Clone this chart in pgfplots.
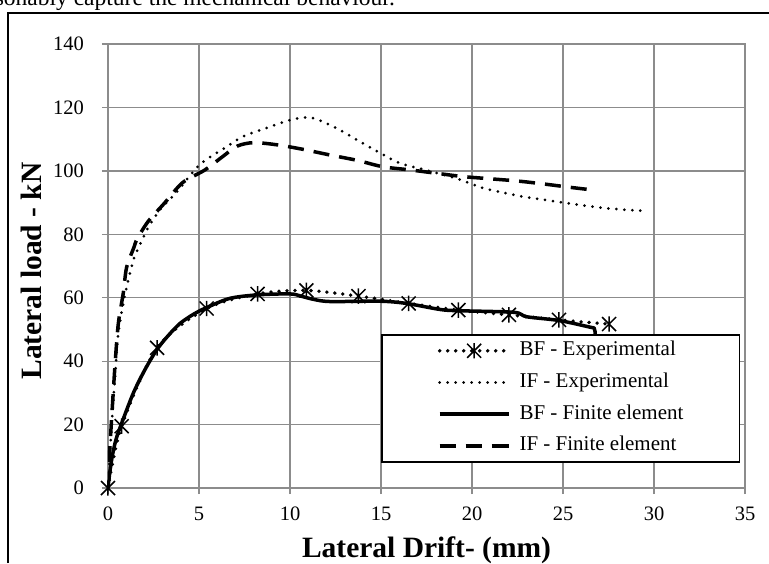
\documentclass[border=0pt]{standalone}
\usepackage{fontspec}
\setmainfont{Liberation Serif}
\usepackage{pgfplots}
\pgfplotsset{compat=1.18}
\definecolor{gridgray}{RGB}{140,140,140}
\pgfdeclareplotmark{xstar}{%
  \pgfpathmoveto{\pgfqpoint{-\pgfplotmarksize}{-\pgfplotmarksize}}%
  \pgfpathlineto{\pgfqpoint{\pgfplotmarksize}{\pgfplotmarksize}}%
  \pgfpathmoveto{\pgfqpoint{-\pgfplotmarksize}{\pgfplotmarksize}}%
  \pgfpathlineto{\pgfqpoint{\pgfplotmarksize}{-\pgfplotmarksize}}%
  \pgfpathmoveto{\pgfqpoint{0pt}{-1.1\pgfplotmarksize}}%
  \pgfpathlineto{\pgfqpoint{0pt}{1.1\pgfplotmarksize}}%
  \pgfusepathqstroke}
\begin{document}
\begin{tikzpicture}
\begin{axis}[
  at={(108pt,-488pt)}, anchor=south west,
  scale only axis, width=637pt, height=444pt,
  xmin=0, xmax=35, ymin=0, ymax=140,
  xtick={0,5,...,35}, ytick={0,20,...,140},
  grid=major,
  major grid style={draw=gridgray, line width=1.3pt},
  axis line style={draw=gridgray, line width=1.3pt},
  tick style={draw=gridgray, line width=1.3pt},
  tick align=outside, major tick length=6pt,
  xtick pos=left, ytick pos=left,
  /pgf/number format/assume math mode=true,
  tick label style={font=\fontsize{20.5}{24}\selectfont, text=black},
  yticklabel style={inner sep=0pt, xshift=-18pt},
  xticklabel style={inner sep=0pt, yshift=-13pt},
  xlabel={Lateral Drift- (mm)},
  ylabel={Lateral load - kN},
  label style={font=\bfseries\fontsize{29.5}{33}\selectfont},
  xlabel style={at={(axis description cs:0.5,0)}, anchor=base, yshift=-69pt, inner sep=0pt},
  ylabel style={at={(axis description cs:0,0.5)}, anchor=base, yshift=66pt, xshift=-5pt, inner sep=0pt},
  legend image code/.code={\draw[mark repeat=2,mark phase=2,#1] plot coordinates {(0pt,0pt) (34.5pt,0pt) (69pt,0pt)};},
  legend cell align=left,
  legend style={at={(rel axis cs:0.4286,0.3468)}, anchor=north west,
    draw=black, line width=1.5pt, fill=white,
    font=\fontsize{21}{25}\selectfont,
    inner xsep=56pt, inner ysep=4.5pt, row sep=8.7pt, column sep=9pt,
    nodes={inner xsep=0pt, inner ysep=2pt, text height=14.5pt, text depth=4.5pt}},
]
% BF - Experimental
\addplot[black, line width=3.8pt, line cap=round, dash pattern=on 0pt off 8pt, smooth,
  mark=xstar, mark size=7pt, mark options={solid, line width=1.5pt, line cap=butt}]
  coordinates {(0,0) (0.75,19.5) (2.7,44.2) (5.42,56.6) (8.22,61.2) (10.9,62.3) (13.76,60.5) (16.52,58.2) (19.25,56.1) (22.03,54.6) (24.78,53.0) (27.53,51.7)};
\addlegendentry{BF - Experimental}
% IF - Experimental
\addplot[black, line width=3pt, line cap=round, dash pattern=on 0pt off 8pt, smooth]
  coordinates {(0,0) (0.08,8) (0.18,18) (0.3,28) (0.42,38) (0.55,48) (0.8,57) (1.05,64) (1.4,72) (1.7,76) (2.2,82) (2.9,88) (3.8,93.5) (5.05,102) (6.5,107.5) (7.4,110.8) (8.9,113.9) (10,116) (11,116.9) (11.8,115.5) (12.9,112.4) (14,108.7) (15,105.5) (16,102.5) (17.3,100.5) (19.2,97.5) (20.6,94.6) (22,92.8) (23,91.7) (25,90.0) (27.2,88.3) (29.4,87.4)};
\addlegendentry{IF - Experimental}
% BF - Finite element
\addplot[black, line width=3.5pt, smooth, line join=round]
  coordinates {(0,0) (0.1,5) (0.25,10.5) (0.45,15.5) (0.75,20.4) (1.39,29.9) (2,37) (2.67,43.5) (3.3,48) (3.96,51.9) (4.7,54.8) (5.42,56.9) (6.7,59.8) (8.22,60.9) (10,61.2) (10.6,60.5) (11.28,59.5) (12.2,58.8) (14.95,58.9) (16.4,58.2) (18.24,56.3) (19.25,55.9) (22.3,55.4) (23,54) (24.8,52.8) (26.5,50.7) (26.72,50.3) (26.78,48) (26.8,44)};
\addlegendentry{BF - Finite element}
% IF - Finite element
\addplot[black, line width=3.5pt, dash pattern=on 16pt off 10pt, smooth]
  coordinates {(0,0) (0.05,7) (0.2,22) (0.4,40) (0.57,52) (0.84,61.5) (1.02,69.5) (1.4,75.5) (1.6,78.5) (2.2,84) (3.1,89.8) (4.1,96.3) (5.3,100.2) (6.3,104.5) (7.1,107.8) (8.0,108.9) (9.3,108.2) (10.7,106.8) (12.2,105) (13.7,103.3) (15.1,101.3) (16.6,100.3) (18.1,99.2) (19.5,98.2) (21,97.5) (22.5,96.8) (23.9,95.9) (25.4,94.8) (26.6,94.0)};
\addlegendentry{IF - Finite element}
\end{axis}
\draw[line width=2pt] (8.3pt,-563pt) -- (8.3pt,-13.3pt) -- (769pt,-13.3pt);
\node[anchor=base east, font=\fontsize{23.5}{27}\selectfont, inner sep=0pt] at (395pt,-5.5pt) {reasonably capture the mechanical behaviour.};
\pgfresetboundingbox
\path[use as bounding box] (0pt,0pt) rectangle (769pt,-563pt);
\end{tikzpicture}
\end{document}
